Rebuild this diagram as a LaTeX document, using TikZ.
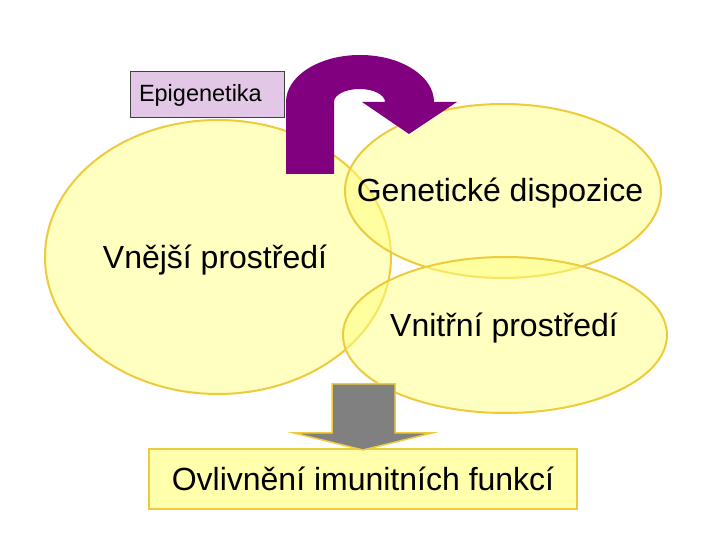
\documentclass[tikz,border=0pt]{standalone}
\usepackage{fontspec}
\setmainfont{Liberation Sans}
\usetikzlibrary{shapes.geometric, positioning}

\definecolor{blobfill}{HTML}{FFFF80}
\definecolor{blobline}{HTML}{EDCB3C}
\definecolor{epifill}{HTML}{E2C8E6}
\definecolor{epipurple}{HTML}{800080}
\definecolor{downgray}{HTML}{808080}

\tikzset{
  blob/.style={ellipse, draw=blobline, line width=2pt, fill=blobfill, fill opacity=0.5, inner sep=0pt},
  blobtext/.style={font=\fontsize{32}{38}\selectfont, inner sep=0pt},
  epibox/.style={rectangle, draw=black!75, line width=1pt, fill=epifill, minimum height=46, text width=136, inner xsep=9,
    align=left, font=\fontsize{23.5}{28}\selectfont},
  resultbox/.style={rectangle, draw=blobline, line width=2pt, fill=blobfill!65, minimum width=428, minimum height=60,
    font=\fontsize{32}{38}\selectfont}
}

\begin{document}
\begin{tikzpicture}[x=1pt, y=1pt]
\useasboundingbox (0,0) rectangle (720,540);
% three environments
\node[blob, minimum width=346, minimum height=274] (outer) at (218,283) {};
\node[blob, minimum width=316, minimum height=174] (genes) at (503,349) {};
\node[blob, minimum width=324, minimum height=156] (inner) at (505,205) {};
\node[blobtext] (outertext) at ([xshift=-3,yshift=-3]outer.center) {Vnější prostředí};
\node[blobtext] (genestext) at ([xshift=-3,yshift=-2]genes.center) {Genetické dispozice};
\node[blobtext] (innertext) at ([xshift=-1,yshift=7]inner.center) {Vnitřní prostředí};
\node[epibox] (epi) at (207,445) {Epigenetika};
\node[resultbox] (immune) at (363,61) {Ovlivnění imunitních funkcí};
% epigenetic turn arrow
\fill[epipurple] (286,366) -- (286,438)
  arc[start angle=180, end angle=0, x radius=74, y radius=47]
  -- (457,438) -- (409,406) -- (362,438) -- (385,438)
  arc[start angle=0, end angle=180, x radius=25.5, y radius=13]
  -- (334,366) -- cycle;
% block arrow down to the result
\draw[draw=blobline, line width=1.5pt, fill=downgray]
  (332,156) -- (395,156) -- (395,107) -- (432,107) -- (363,90) -- (294,107) -- (332,107) -- cycle;
\end{tikzpicture}
\end{document}
